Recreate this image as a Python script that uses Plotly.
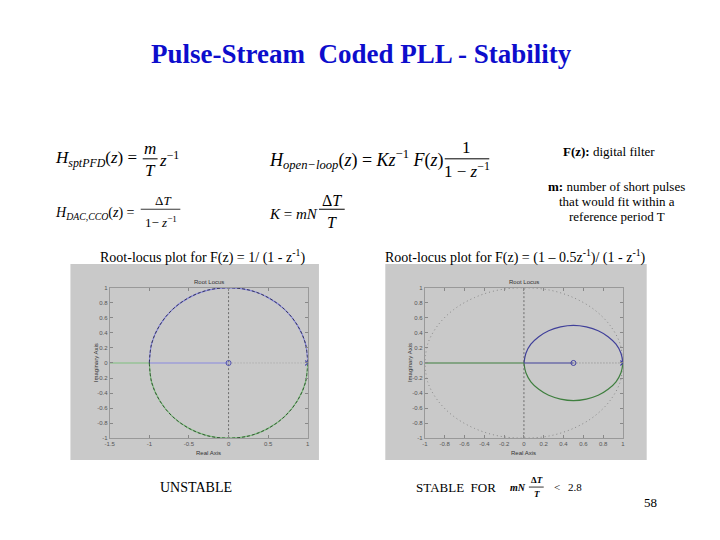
import plotly.graph_objects as go

# page body has an 8px default margin: the figure is shrunk and coordinates shifted
OFF = 8
W, H = 720 - OFF, 540 - OFF
def px(x): return (x - OFF) / W
def py(y): return 1 - (y - OFF) / H

# ---------------- data ----------------
uc_x = [1, 0.97, 0.87, 0.71, 0.5, 0.26, 0, -0.26, -0.5, -0.71, -0.87, -0.97, -1]
uc_y_up = [0, 0.26, 0.5, 0.71, 0.87, 0.97, 1, 0.97, 0.87, 0.71, 0.5, 0.26, 0]
uc_y_dn = [-v for v in uc_y_up]

# left plot: F(z) = 1/(1 - z^-1)
L_real_blue_x = [-1, 0]
L_real_green_x = [-1.5, -1]
L_zero = [0]
L_pole = [1]
L_xticks = [-1.5, -1, -0.5, 0, 0.5, 1]
L_xlabels = ["-1.5", "-1", "-0.5", "0", "0.5", "1"]

# right plot: F(z) = (1 - 0.5 z^-1)/(1 - z^-1)
R_circ_x = [1, 0.98, 0.93, 0.85, 0.75, 0.63, 0.5, 0.37, 0.25, 0.15, 0.07, 0.02, 0]
R_circ_y_up = [0, 0.13, 0.25, 0.35, 0.43, 0.48, 0.5, 0.48, 0.43, 0.35, 0.25, 0.13, 0]
R_circ_y_dn = [-v for v in R_circ_y_up]
R_real_blue_x = [0, 0.5]
R_real_green_x = [-1, 0]
R_zero = [0.5]
R_pole = [1]
R_xticks = [-1, -0.8, -0.6, -0.4, -0.2, 0, 0.2, 0.4, 0.6, 0.8, 1]
R_xlabels = ["-1", "-0.8", "-0.6", "-0.4", "-0.2", "0", "0.2", "0.4", "0.6", "0.8", "1"]

yticks = [-1, -0.8, -0.6, -0.4, -0.2, 0, 0.2, 0.4, 0.6, 0.8, 1]
ylabels = ["-1", "-0.8", "-0.6", "-0.4", "-0.2", "0", "0.2", "0.4", "0.6", "0.8", "1"]

# ---------------- figure ----------------
fig = go.Figure()

BLUE_L = "#8a8ae0"
GREEN_L = "#7fbf7f"
BLUE_R = "#40409a"
GREEN_R = "#3f7f3f"
GRID = "#555555"

def line(x, y, color, xa, ya, dash="solid", width=1, shape="spline"):
    fig.add_trace(go.Scatter(x=x, y=y, mode="lines", xaxis=xa, yaxis=ya,
                             line=dict(color=color, width=width, dash=dash, shape=shape),
                             hoverinfo="skip", showlegend=False))

# left plot
line(uc_x, uc_y_up, BLUE_L, "x", "y", width=1.2)
line(uc_x, uc_y_dn, GREEN_L, "x", "y", width=1.2)
line(L_real_blue_x, [0, 0], BLUE_L, "x", "y", width=1.2, shape="linear")
line(L_real_green_x, [0, 0], GREEN_L, "x", "y", width=1.2, shape="linear")
line(uc_x, uc_y_up, "#333355", "x", "y", dash="3px,2px", width=1)
line(uc_x, uc_y_dn, "#335533", "x", "y", dash="3px,2px", width=1)
line([0, 0], [-1, 1], GRID, "x", "y", dash="2px,2px", width=0.8, shape="linear")
line([L_zero[0], L_pole[0]], [0, 0], "#999999", "x", "y", dash="1px,2px", width=0.8, shape="linear")
fig.add_trace(go.Scatter(x=L_zero, y=[0], mode="markers", xaxis="x", yaxis="y",
                         marker=dict(symbol="circle-open", size=5, color="#5050b0", line=dict(width=1)),
                         hoverinfo="skip", showlegend=False))
fig.add_trace(go.Scatter(x=L_pole, y=[0], mode="markers", xaxis="x", yaxis="y",
                         marker=dict(symbol="x-thin-open", size=5, color="#5050b0", line=dict(width=1.2, color="#5050b0")),
                         hoverinfo="skip", showlegend=False))

# right plot
line(uc_x, uc_y_up, "#888888", "x2", "y2", dash="1px,3px", width=1)
line(uc_x, uc_y_dn, "#888888", "x2", "y2", dash="1px,3px", width=1)
line(R_circ_x, R_circ_y_up, BLUE_R, "x2", "y2", width=1.2)
line(R_circ_x, R_circ_y_dn, GREEN_R, "x2", "y2", width=1.2)
line(R_real_blue_x, [0, 0], BLUE_R, "x2", "y2", width=1.2, shape="linear")
line(R_real_green_x, [0, 0], GREEN_R, "x2", "y2", width=1.2, shape="linear")
line([0, 0], [-1, 1], GRID, "x2", "y2", dash="2px,2px", width=0.8, shape="linear")
line([R_zero[0], R_pole[0]], [0, 0], "#777777", "x2", "y2", dash="1px,2px", width=0.8, shape="linear")
fig.add_trace(go.Scatter(x=R_zero, y=[0], mode="markers", xaxis="x2", yaxis="y2",
                         marker=dict(symbol="circle-open", size=5, color="#4040a0", line=dict(width=1)),
                         hoverinfo="skip", showlegend=False))
fig.add_trace(go.Scatter(x=R_pole, y=[0], mode="markers", xaxis="x2", yaxis="y2",
                         marker=dict(symbol="x-thin-open", size=5, color="#4040a0", line=dict(width=1.2, color="#4040a0")),
                         hoverinfo="skip", showlegend=False))

tickfont = dict(family="Liberation Sans, Arial, sans-serif", size=6, color="#555555")
def xaxis(dom, rng, tv, tt, anchor):
    return dict(domain=dom, range=rng, tickvals=tv, ticktext=tt, ticks="inside", ticklen=3,
                tickcolor="#888888", showline=True, linecolor="#999999", linewidth=1, mirror="ticks",
                showgrid=False, zeroline=False, tickfont=tickfont, anchor=anchor, fixedrange=True)
def yaxis(dom, anchor):
    return dict(domain=dom, range=[-1, 1], tickvals=yticks, ticktext=ylabels, ticks="inside", ticklen=3,
                tickcolor="#888888", showline=True, linecolor="#999999", linewidth=1, mirror="ticks",
                showgrid=False, zeroline=False, tickfont=tickfont, anchor=anchor, fixedrange=True)

ydom = [py(440), py(288)]
fig.update_layout(
    xaxis=xaxis([px(105.7), px(305.7)], [-1.5, 1], L_xticks, L_xlabels, "y"),
    yaxis=yaxis(ydom, "x"),
    xaxis2=xaxis([px(424), px(624)], [-1, 1], R_xticks, R_xlabels, "y2"),
    yaxis2=yaxis(ydom, "x2"),
)

shapes = []
for (x0, y0, x1, y1) in [(66, 264, 317, 462), (384, 264, 648, 462)]:
    shapes.append(dict(type="rect", xref="paper", yref="paper", x0=px(x0), x1=px(x1),
                       y0=py(y1), y1=py(y0), fillcolor="#c9c9c9", line=dict(width=0), layer="below"))

def bar(x0, x1, y, w=1):
    shapes.append(dict(type="line", xref="paper", yref="paper", x0=px(x0), x1=px(x1),
                       y0=py(y), y1=py(y), line=dict(color="black", width=w)))

bar(139, 154, 157.5)
bar(444, 489, 157.5)
bar(137, 177, 208.5, 0.8)
bar(317, 343, 208.5)
bar(529, 544, 489.5, 0.8)

annotations = []
SERIF = "Times New Roman, Liberation Serif, Times, serif"
def txt(x, y, s, size=13, anchor="left", color="black", family=SERIF, angle=0):
    annotations.append(dict(x=px(x), y=py(y), xref="paper", yref="paper", text=s, showarrow=False,
                            xanchor=anchor, yanchor="middle", textangle=angle, borderpad=0,
                            font=dict(family=family, size=size, color=color)))

txt(360, 51, "<b>Pulse-Stream  Coded PLL - Stability</b>", size=27, anchor="center", color="#0d0dcc")

txt(49, 158, "<i>H</i><sub><i>sptPFD</i></sub>(<i>z</i>) =", size=17)
txt(146.5, 147, "<i>m</i>", size=17, anchor="center")
txt(146.5, 169, "<i>T</i>", size=17, anchor="center")
txt(154, 158, "<i>z</i><sup>−1</sup>", size=17)

txt(266, 158, "<i>H</i><sub><i>open−loop</i></sub>(<i>z</i>) = <i>Kz</i><sup>−1</sup> <i>F</i>(<i>z</i>)", size=18)
txt(466, 146, "1", size=17, anchor="center")
txt(467, 169, "1 − <i>z</i><sup>−1</sup>", size=17, anchor="center")

txt(49, 213, "<i>H</i><sub><i>DAC,CCO</i></sub>(<i>z</i>) =", size=14)
txt(159, 200, "Δ<i>T</i>", size=13, anchor="center")
txt(157, 221, "1− <i>z</i><sup>−1</sup>", size=13, anchor="center")

txt(266, 213, "<i>K</i> = <i>mN</i>", size=15)
txt(330, 200, "Δ<i>T</i>", size=16, anchor="center")
txt(330, 222, "<i>T</i>", size=16, anchor="center")

txt(610, 150, "<b>F(z):</b> digital filter", size=13, anchor="center")
txt(617, 186, "<b>m:</b> number of short pulses", size=13, anchor="center")
txt(618, 201, "that would fit within a", size=13, anchor="center")
txt(618, 216, "reference period T", size=13, anchor="center")

txt(199, 256, "Root-locus plot for F(z) = 1/ (1 - z<sup>-1</sup>)", size=14, anchor="center")
txt(515, 256, "Root-locus plot for F(z) = (1 – 0.5z<sup>-1</sup>)/ (1 - z<sup>-1</sup>)", size=14, anchor="center")

small = dict(size=6, family="Liberation Sans, Arial, sans-serif", color="#333333")
for cx, ix in [(205.7, 92), (524, 409)]:
    txt(cx, 282, "Root Locus", anchor="center", **small)
    txt(cx, 455, "Real Axis", anchor="center", **small)
    txt(ix, 364, "Imaginary Axis", anchor="center", angle=-90, **small)

txt(193, 490, "UNSTABLE", size=14, anchor="center")
txt(414, 490, "STABLE  FOR", size=13)
txt(509, 490, "<b><i>mN</i></b>", size=10)
txt(537, 482, "<b>Δ<i>T</i></b>", size=9, anchor="center")
txt(537, 497, "<b><i>T</i></b>", size=9, anchor="center")
txt(557, 489, "<", size=11, anchor="center")
txt(567, 489, "2.8", size=11)
txt(644, 505, "58", size=13)

fig.update_layout(
    width=W, height=H, margin=dict(l=0, r=0, t=0, b=0),
    paper_bgcolor="white", plot_bgcolor="white",
    shapes=shapes, annotations=annotations, showlegend=False,
)

fig.write_html("out.html")
